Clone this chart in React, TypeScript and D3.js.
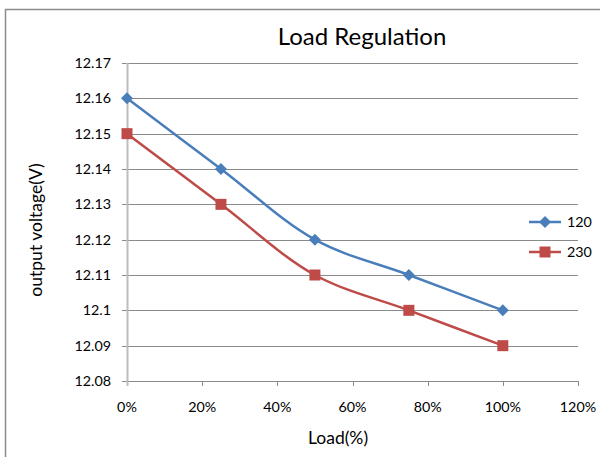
import React from "react";
import * as d3 from "d3";

// Load points (%) and measured output voltage for each input line voltage
const loads = [0, 25, 50, 75, 100];
const v120 = [12.16, 12.14, 12.12, 12.11, 12.1];
const v230 = [12.15, 12.13, 12.11, 12.1, 12.09];
const yTicks = [12.08, 12.09, 12.1, 12.11, 12.12, 12.13, 12.14, 12.15, 12.16, 12.17];
const xTicks = [0, 20, 40, 60, 80, 100, 120];
const seriesNames = ["120", "230"];

const W = 600;
const H = 457;
const FONT = "Lato, 'Open Sans', sans-serif";

export default function App() {
  const x = d3.scaleLinear().domain([0, 120]).range([127, 578]);
  const y = d3.scaleLinear().domain([12.08, 12.17]).range([381, 63]);

  const line = d3
    .line<[number, number]>()
    .x((d) => x(d[0]))
    .y((d) => y(d[1]))
    .curve(d3.curveCatmullRom.alpha(0.5));

  const blue = "#4A7EBB";
  const red = "#BE4B48";

  const series = [
    { name: seriesNames[0], values: v120, color: blue, marker: "diamond" },
    { name: seriesNames[1], values: v230, color: red, marker: "square" },
  ];

  const marker = (kind: string, cx: number, cy: number, color: string, key: string | number) =>
    kind === "diamond" ? (
      <path
        key={key}
        d={`M${cx},${cy - 6}L${cx + 6},${cy}L${cx},${cy + 6}L${cx - 6},${cy}Z`}
        fill={color}
      />
    ) : (
      <rect key={key} x={cx - 5.5} y={cy - 5.5} width={11} height={11} fill={color} />
    );

  const fmtY = (v: number) => String(+v.toFixed(2));

  return (
    <svg
      width={W}
      height={H}
      style={{ position: "absolute", left: 0, top: 0, background: "#fff" }}
      fontFamily={FONT}
    >
      {/* chart frame */}
      <path d={`M5.5,${H}V9.5H${W}`} fill="none" stroke="#8c8c8c" strokeWidth={1.5} />

      {/* title */}
      <text x={362} y={45} textAnchor="middle" fontSize={24} fill="#000">
        Load Regulation
      </text>

      {/* horizontal gridlines with left tick marks */}
      {yTicks.map((t) => (
        <g key={t}>
          <line x1={122} x2={578} y1={Math.round(y(t)) + 0.5} y2={Math.round(y(t)) + 0.5} stroke="#8a8a8a" strokeWidth={1} />
          <text x={111} y={y(t)} dy="0.35em" textAnchor="end" fontSize={14.3} fill="#000">
            {fmtY(t)}
          </text>
        </g>
      ))}

      {/* vertical axis */}
      <line x1={127.5} x2={127.5} y1={63} y2={386} stroke="#bdbdbd" strokeWidth={2} />

      {/* x ticks and labels */}
      {xTicks.map((t) => (
        <g key={t}>
          {t > 0 && (
            <line x1={Math.round(x(t)) + 0.5} x2={Math.round(x(t)) + 0.5} y1={381} y2={386} stroke="#8a8a8a" />
          )}
          <text x={x(t)} y={407} dy="0.35em" textAnchor="middle" fontSize={14.3} fill="#000">
            {t}%
          </text>
        </g>
      ))}

      {/* axis titles */}
      <text x={338} y={438} dy="0.35em" textAnchor="middle" fontSize={17.5} fill="#000">
        Load(%)
      </text>
      <text
        transform={`translate(36,230) rotate(-90)`}
        dy="0.35em"
        textAnchor="middle"
        fontSize={17.5}
        fill="#000"
      >
        output voltage(V)
      </text>

      {/* series */}
      {series.map((s) => {
        const pts = loads.map((l, i) => [l, s.values[i]] as [number, number]);
        return (
          <g key={s.name}>
            <path d={line(pts) || ""} fill="none" stroke={s.color} strokeWidth={2.5} />
            {pts.map((p, i) => marker(s.marker, x(p[0]), y(p[1]), s.color, i))}
          </g>
        );
      })}

      {/* legend */}
      {series.map((s, i) => {
        const ly = 222 + i * 30;
        return (
          <g key={s.name}>
            <line x1={529} x2={561} y1={ly} y2={ly} stroke={s.color} strokeWidth={2.5} />
            {marker(s.marker, 545, ly, s.color, "m")}
            <text x={567} y={ly} dy="0.35em" fontSize={14.3} fill="#000">
              {s.name}
            </text>
          </g>
        );
      })}
    </svg>
  );
}
